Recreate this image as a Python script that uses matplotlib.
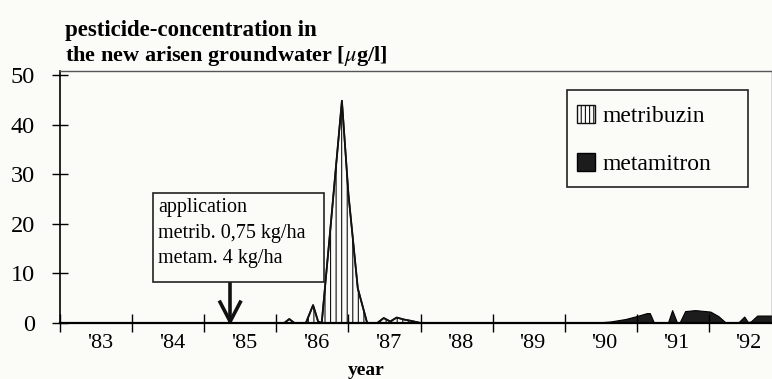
import matplotlib
matplotlib.use("Agg")
import matplotlib.pyplot as plt
from matplotlib.patches import Patch, Rectangle

plt.rcParams["font.family"] = ["Liberation Serif", "DejaVu Serif"]
plt.rcParams["mathtext.fontset"] = "stix"
plt.rcParams["hatch.linewidth"] = 0.8

# ── data (x = decimal year, tick = start of year) ──
years = [1983, 1984, 1985, 1986, 1987, 1988, 1989, 1990, 1991, 1992]
year_labels = ["'83", "'84", "'85", "'86", "'87", "'88", "'89", "'90", "'91", "'92"]
y_ticks = [0, 10, 20, 30, 40, 50]

metribuzin_x = [1985.91, 1986.11, 1986.18, 1986.25, 1986.41, 1986.51, 1986.58, 1986.63,
                1986.75, 1986.91, 1987.00, 1987.13, 1987.26, 1987.40, 1987.49, 1987.58,
                1987.67, 1987.77, 1987.88, 1988.00]
metribuzin_y = [0, 0, 0.8, 0, 0, 3.6, 0.3, 0, 19, 44.8, 26, 7, 0, 0, 1.0, 0.3, 1.1, 0.7, 0.4, 0]

metamitron_x = [1990.35, 1990.63, 1990.84, 1991.00, 1991.14, 1991.18, 1991.24, 1991.43,
                1991.49, 1991.56, 1991.59, 1991.67, 1991.81, 1992.02, 1992.13, 1992.24,
                1992.40, 1992.49, 1992.54, 1992.58, 1992.67, 1992.88]
metamitron_y = [0, 0.3, 0.8, 1.4, 2.0, 2.0, 0, 0, 2.6, 0, 0, 2.4, 2.6, 2.3, 1.4, 0,
                0, 1.3, 0.2, 0.3, 1.5, 1.5]

BG = "#fbfbf8"
fig = plt.figure(figsize=(7.72, 3.79), dpi=100, facecolor=BG)
ax = fig.add_axes([60 / 772, 1 - 323 / 379, 712 / 772, 252 / 379], facecolor=BG)
ax.set_xlim(1983, 1992.875)
ax.set_ylim(0, 50.8)

ax.fill_between(metribuzin_x, metribuzin_y, color="none", edgecolor="#111", hatch="|||", lw=1.2)
ax.plot(metribuzin_x, metribuzin_y, color="#111", lw=1.3)
ax.fill_between(metamitron_x, metamitron_y, color="#1c1c1c", edgecolor="#000", lw=0.8)

# axes / ticks
for s in ("top", "right"):
    ax.spines[s].set_color("#555"); ax.spines[s].set_linewidth(1.0)
ax.spines["left"].set_linewidth(1.2); ax.spines["bottom"].set_linewidth(1.6)
ax.set_yticks(y_ticks)
ax.tick_params(axis="y", direction="inout", length=12, width=1.0, labelsize=17.5, pad=12)
ax.set_xticks(years)
ax.set_xticklabels([])
ax.tick_params(axis="x", which="major", direction="inout", length=13, width=1.0)
ax.set_xticks([y + 0.55 for y in years], minor=True)
ax.set_xticklabels(year_labels, minor=True, fontsize=16)
ax.tick_params(axis="x", which="minor", length=0, pad=8)
ax.set_xlabel("year", fontsize=14, fontweight="bold", labelpad=0)
ax.xaxis.set_label_coords(0.43, -0.155)

# title
fig.text(65 / 772, 1 - 36 / 379, "pesticide-concentration in", fontsize=16.5, fontweight="bold")
fig.text(65 / 772, 1 - 61 / 379, "the new arisen groundwater [$\\mu$g/l]", fontsize=16, fontweight="bold")

# application box + arrow
ax.add_patch(Rectangle((1984.29, 8.27), 2.37, 17.9, fill=False, ec="#222", lw=1.2, zorder=5))
for txt, yy in zip(["application", "metrib. 0,75 kg/ha", "metam. 4 kg/ha"], [23.2, 18.1, 13.1]):
    ax.text(1984.36, yy, txt, fontsize=14.5, va="center", ha="left")
ax.plot([1985.36, 1985.36], [0.3, 8.27], color="#111", lw=2.6, solid_capstyle="butt")
ax.plot([1985.22, 1985.36, 1985.50], [4.2, 0.3, 4.2], color="#111", lw=2.6)

# legend (frame drawn separately to get the wide box)
handles = [Patch(facecolor="none", edgecolor="#111", hatch="||||", label="metribuzin"),
           Patch(facecolor="#1c1c1c", edgecolor="#000", label="metamitron")]
leg = ax.legend(handles=handles, loc="upper left", bbox_to_anchor=(577 / 772, 1 - 105 / 379),
                bbox_transform=fig.transFigure, fontsize=17, frameon=False,
                handlelength=0.78, handleheight=0.78, handletextpad=0.3,
                labelspacing=1.1, borderpad=0, borderaxespad=0)
fig.add_artist(Rectangle((567 / 772, 1 - 187 / 379), 181 / 772, 97 / 379, fill=False,
                         ec="#222", lw=1.2, transform=fig.transFigure))

fig.savefig("out.png", dpi=100, facecolor=BG)
